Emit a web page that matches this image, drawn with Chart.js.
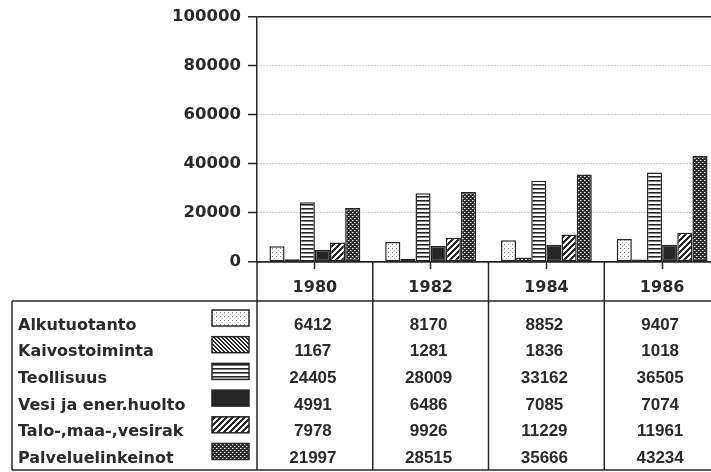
<!DOCTYPE html>
<html>
<head>
<meta charset="utf-8">
<script src="https://cdn.jsdelivr.net/npm/chart.js@4/dist/chart.umd.min.js"></script>
<style>
  html, body { margin: 0; padding: 0; background: #fff; }
  #wrap { width: 711px; height: 472px; overflow: hidden; position: relative; }
  canvas { display: block; }
</style>
</head>
<body>
<div id="wrap"><canvas id="c" width="720" height="472"></canvas></div>
<script>
// ---- data ----
const years = ['1980', '1982', '1984', '1986'];
const seriesNames = ['Alkutuotanto', 'Kaivostoiminta', 'Teollisuus', 'Vesi ja ener.huolto', 'Talo-,maa-,vesirak', 'Palveluelinkeinot'];
const alkutuotanto = [6412, 8170, 8852, 9407];
const kaivostoiminta = [1167, 1281, 1836, 1018];
const teollisuus = [24405, 28009, 33162, 36505];
const vesiEnerHuolto = [4991, 6486, 7085, 7074];
const taloMaaVesirak = [7978, 9926, 11229, 11961];
const palveluelinkeinot = [21997, 28515, 35666, 43234];
const yTickValues = [0, 20000, 40000, 60000, 80000, 100000];

const seriesValues = [alkutuotanto, kaivostoiminta, teollisuus, vesiEnerHuolto, taloMaaVesirak, palveluelinkeinot];

// ---- patterns ----
function makePattern(size, bg, painter) {
  const c = document.createElement('canvas');
  c.width = size; c.height = size;
  const g = c.getContext('2d');
  g.fillStyle = bg; g.fillRect(0, 0, size, size);
  painter(g, size);
  return document.getElementById('c').getContext('2d').createPattern(c, 'repeat');
}
const INK = '#262626';
const patterns = [
  makePattern(4, '#ffffff', (g) => { g.fillStyle = '#777'; g.fillRect(0, 0, 1, 1); g.fillStyle = '#bbb'; g.fillRect(2, 2, 1, 1); }),
  makePattern(4, '#ffffff', (g, s) => { g.fillStyle = INK; for (let i = 0; i < s; i++) { g.fillRect(i, i, 1, 1); g.fillRect((i + 1) % s, i, 1, 1); } }),
  makePattern(4, '#ffffff', (g) => { g.fillStyle = INK; g.fillRect(0, 0, 4, 1); g.fillStyle = '#777'; g.fillRect(0, 1, 4, 1); }),
  makePattern(4, INK, () => {}),
  makePattern(6, '#ffffff', (g, s) => { g.fillStyle = INK; for (let x = 0; x < s; x++) for (let y = 0; y < s; y++) if ((x + y) % s < 3) g.fillRect(x, y, 1, 1); }),
  makePattern(4, '#2e2e2e', (g) => { g.fillStyle = '#ffffff'; g.fillRect(0, 0, 1, 1); g.fillRect(2, 2, 1, 1); g.fillStyle = '#8a8a8a'; g.fillRect(1, 0, 1, 1); g.fillRect(3, 2, 1, 1); })
];

const TEXT = '#2a2a2a';
const LABEL_FONT = 'bold 16px "DejaVu Sans"';
const NUM_FONT = 'bold 17px "Liberation Sans"';

// ---- table plugin (drawn from the chart's own x scale) ----
const tablePlugin = {
  id: 'dataTable',
  afterDraw(chart) {
    const { ctx, chartArea: a, scales: { x } } = chart;
    const n = years.length;
    const cw = (x.right - x.left) / n;
    const headerBottom = a.bottom + 39;
    const tableBottom = a.bottom + 208;
    const tableLeft = 12;
    ctx.save();
    ctx.strokeStyle = INK;
    ctx.lineWidth = 1.5;
    const line = (x1, y1, x2, y2) => { ctx.beginPath(); ctx.moveTo(x1, y1); ctx.lineTo(x2, y2); ctx.stroke(); };
    line(a.left, a.bottom, a.left, tableBottom);
    for (let i = 1; i <= n; i++) {
      const bx = x.left + i * cw;
      line(bx, a.bottom, bx, tableBottom);
    }
    line(tableLeft, headerBottom, x.right, headerBottom);
    line(tableLeft, tableBottom, x.right, tableBottom);
    line(tableLeft, headerBottom, tableLeft, tableBottom);

    const rowH = 26.7;
    for (let s = 0; s < seriesNames.length; s++) {
      const base = headerBottom + 28.5 + s * rowH;
      ctx.fillStyle = TEXT;
      ctx.font = LABEL_FONT;
      ctx.textAlign = 'left';
      ctx.textBaseline = 'alphabetic';
      ctx.fillText(seriesNames[s], 18, base);
      // swatch
      ctx.fillStyle = patterns[s];
      ctx.fillRect(212, base - 19.5, 37, 16);
      ctx.strokeRect(212, base - 19.5, 37, 16);
      // values
      ctx.fillStyle = TEXT;
      ctx.font = NUM_FONT;
      ctx.textAlign = 'center';
      for (let c = 0; c < n; c++) {
        ctx.fillText(String(seriesValues[s][c]), x.getPixelForValue(c) - 2, base);
      }
    }
    ctx.restore();
  }
};

const datasets = seriesNames.map((name, i) => ({
  label: name,
  data: seriesValues[i],
  backgroundColor: patterns[i],
  borderColor: INK,
  borderWidth: 1.5,
  borderSkipped: false,
  categoryPercentage: 0.785,
  barPercentage: 1.0
}));

new Chart(document.getElementById('c'), {
  type: 'bar',
  data: { labels: years, datasets },
  plugins: [tablePlugin],
  options: {
    responsive: false,
    animation: false,
    events: [],
    layout: { padding: { top: 13, left: 0, right: 0, bottom: 0 } },
    plugins: { legend: { display: false }, tooltip: { enabled: false }, title: { display: false } },
    scales: {
      x: {
        position: 'bottom',
        grid: { offset: false, drawOnChartArea: false, drawTicks: true, tickLength: 7, tickColor: INK, tickWidth: 1.5, color: INK },
        border: { display: true, color: INK, width: 1.5 },
        ticks: { color: TEXT, font: { family: 'DejaVu Sans', size: 16, weight: 'bold' }, padding: 9, maxRotation: 0 },
        afterFit(scale) { scale.height = 210; }
      },
      y: {
        min: 0,
        max: 100000,
        afterBuildTicks(scale) { scale.ticks = yTickValues.map(v => ({ value: v })); },
        grid: {
          color: (ctx) => (ctx.tick && (ctx.tick.value === 0 || ctx.tick.value === 100000)) ? INK : 'rgba(0,0,0,0.38)',
          lineWidth: (ctx) => (ctx.tick && (ctx.tick.value === 0 || ctx.tick.value === 100000)) ? 1.5 : 1,
          tickColor: INK,
          tickWidth: 1.5,
          tickLength: 9,
          tickBorderDash: []
        },
        border: {
          display: true, color: INK, width: 1.5,
          dash: (ctx) => (ctx.tick && (ctx.tick.value === 0 || ctx.tick.value === 100000)) ? [] : [1, 2]
        },
        ticks: {
          color: TEXT,
          font: { family: 'DejaVu Sans', size: 16.5, weight: 'bold' },
          padding: 7,
          callback: (v) => String(v)
        },
        afterFit(scale) { scale.width = 257; }
      }
    }
  }
});
</script>
</body>
</html>
